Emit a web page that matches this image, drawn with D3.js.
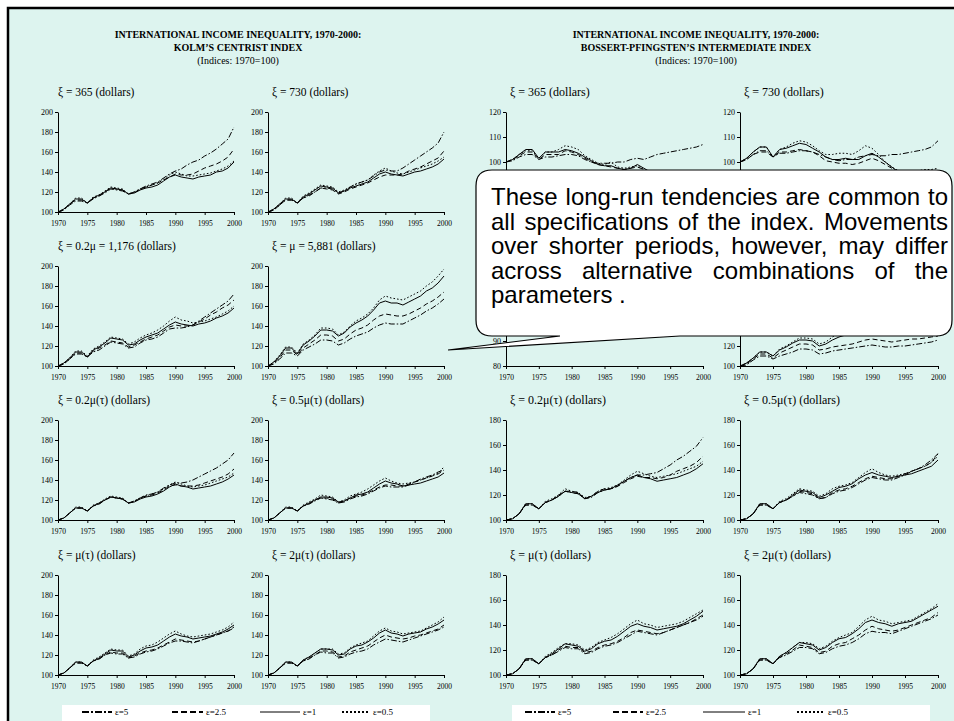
<!DOCTYPE html>
<html><head><meta charset="utf-8">
<script src="https://cdn.jsdelivr.net/npm/d3@7"></script>
<style>body{margin:0;background:#fff}svg{display:block}</style>
</head><body>
<svg id="chart" width="954" height="721"></svg>
<script>
// ---------- data ----------
const years = [1970,1971,1972,1973,1974,1975,1976,1977,1978,1979,1980,1981,1982,1983,1984,1985,1986,1987,1988,1989,1990,1991,1992,1993,1994,1995,1996,1997,1998,1999,2000];
const xTickYears = [1970,1975,1980,1985,1990,1995,2000];
const legendLabels = ["\u03b5=5","\u03b5=2.5","\u03b5=1","\u03b5=0.5"];
const ticksKolm = [100,120,140,160,180,200];
const ticksBPlow = [80,90,100,110,120];
const ticksBPhigh = [100,120,140,160,180];

const headers = [
  ["INTERNATIONAL INCOME INEQUALITY, 1970-2000:", "KOLM\u2019S CENTRIST INDEX", "(Indices: 1970=100)"],
  ["INTERNATIONAL INCOME INEQUALITY, 1970-2000:", "BOSSERT-PFINGSTEN\u2019S INTERMEDIATE INDEX", "(Indices: 1970=100)"]
];
const panelTitles = [
  "\u03be = 365 (dollars)", "\u03be = 730 (dollars)",
  "\u03be = 0.2\u03bc = 1,176 (dollars)", "\u03be = \u03bc = 5,881 (dollars)",
  "\u03be = 0.2\u03bc(\u03c4) (dollars)", "\u03be = 0.5\u03bc(\u03c4) (dollars)",
  "\u03be = \u03bc(\u03c4) (dollars)", "\u03be = 2\u03bc(\u03c4) (dollars)"
];
const calloutLines = [
  "These long-run tendencies are common to",
  "all specifications of the index. Movements",
  "over shorter periods, however, may differ",
  "across alternative combinations of the",
  "parameters ."
];

// each panel: [ε=5, ε=2.5, ε=1, ε=0.5]
const kolm365 = [
  [100,102,107,111,111,109,113,116,119,123,122,121,118,120,123,126,128,130,134,138,141,143,147,150,152,156,159,163,168,173,185],
  [100,102,108,112,112,109,114,116,120,124,123,122,118,119,123,125,127,129,132,135,138,137,137,138,141,144,146,148,151,155,163],
  [100,103,108,113,113,109,114,117,120,124,123,122,118,119,122,124,125,127,131,135,137,135,134,133,135,136,137,140,141,144,150],
  [100,103,108,114,114,109,115,117,121,125,124,123,118,120,123,125,127,129,133,137,140,138,136,136,137,138,139,141,143,146,151]
];
const kolm730 = [
  [100,102,107,112,112,109,114,117,120,124,124,123,119,121,125,128,130,132,136,140,142,141,141,144,148,152,156,160,164,169,180],
  [100,102,107,112,112,109,114,116,120,124,123,122,118,120,123,125,127,129,132,135,137,137,137,138,141,143,145,148,151,154,161],
  [100,103,108,113,113,109,115,118,122,126,125,124,119,121,124,126,128,130,134,138,140,138,137,136,138,140,141,143,145,148,153],
  [100,103,108,114,114,109,116,119,123,127,126,125,120,122,125,128,130,132,137,141,144,141,139,138,140,142,144,146,148,151,155]
];
const kolm1176 = [
  [100,102,107,112,112,109,114,116,120,124,123,122,118,119,123,126,127,129,133,137,138,138,139,141,145,149,153,157,161,165,172],
  [100,102,107,113,113,109,115,118,121,125,124,123,119,121,124,127,129,131,135,139,141,140,140,141,144,147,151,154,158,161,166],
  [100,103,108,114,114,109,116,119,123,128,127,126,121,122,126,129,131,133,137,141,144,142,141,140,142,143,145,148,150,153,158],
  [100,103,108,115,115,110,117,120,124,129,128,127,122,124,128,131,133,136,140,145,149,146,145,143,144,145,147,149,152,155,160]
];
const kolm5881 = [
  [100,102,107,113,113,110,116,119,122,126,126,125,121,123,127,130,132,134,138,141,143,142,142,142,145,148,151,155,158,162,167],
  [100,103,108,116,116,111,118,122,126,131,131,130,125,127,132,136,138,141,146,150,152,151,150,150,152,155,158,162,165,169,174],
  [100,104,110,118,118,112,121,125,130,136,136,135,130,133,139,143,146,150,156,163,165,163,163,161,164,167,170,175,178,183,190],
  [100,104,111,119,119,113,122,126,131,138,138,137,131,134,140,145,148,152,158,166,170,168,167,166,169,172,175,180,184,190,197]
];
const kolm02mt = [
  [100,102,107,112,112,109,114,116,120,123,122,121,117,119,122,125,126,128,132,135,137,137,138,140,143,146,149,152,156,160,167],
  [100,102,107,112,112,109,114,116,120,123,122,121,117,118,122,124,125,127,130,134,135,134,134,134,135,137,139,141,143,146,151],
  [100,102,107,112,112,109,114,117,120,123,122,121,117,118,121,123,124,126,129,133,136,134,133,131,132,133,134,136,138,141,145],
  [100,102,107,113,113,109,115,117,121,124,123,122,117,119,122,124,126,128,131,135,138,136,134,133,134,135,137,139,141,143,147]
];
const kolm05mt = [
  [100,102,107,112,112,109,114,116,119,122,121,120,117,118,121,123,124,126,129,132,134,133,133,133,135,138,141,143,145,148,150],
  [100,102,107,112,112,109,114,116,120,122,122,121,117,119,122,124,125,127,130,133,135,135,134,134,136,138,140,142,144,146,150],
  [100,102,107,112,112,109,114,117,120,123,123,122,118,119,122,125,126,128,132,136,139,137,136,134,135,136,137,139,141,143,147],
  [100,102,107,113,113,109,115,118,121,125,124,123,118,120,124,126,128,131,135,139,142,139,137,136,137,138,140,142,144,147,153]
];
const kolm1mt = [
  [100,102,107,112,112,109,114,116,120,122,121,121,117,118,121,123,124,126,129,132,134,134,133,132,134,136,138,140,142,144,147],
  [100,102,107,112,112,109,114,116,120,123,122,122,117,119,122,124,125,127,130,133,136,135,134,133,134,136,138,140,142,144,148],
  [100,102,107,113,113,109,114,117,121,125,124,124,118,120,124,127,128,130,134,138,141,139,138,136,137,138,139,141,143,146,150],
  [100,102,107,113,113,109,115,118,122,126,125,125,119,121,126,129,130,133,137,141,144,141,139,138,139,140,141,143,145,148,153]
];
const kolm2mt = [
  [100,102,107,112,112,109,114,116,120,123,122,122,117,118,121,123,124,126,130,133,136,135,134,133,135,137,139,141,143,145,148],
  [100,102,107,112,112,109,114,117,120,124,124,123,118,119,123,125,127,129,133,137,140,138,137,136,137,139,140,142,144,146,150],
  [100,102,107,113,113,109,115,118,122,126,126,125,120,121,126,129,130,133,137,142,145,142,141,139,141,142,143,146,148,151,155],
  [100,102,107,113,113,109,115,118,122,126,126,126,121,122,127,130,132,134,139,144,147,144,143,141,142,143,144,147,150,153,158]
];

const bp365 = [
  [100,100.5,102,103,103,101,102,102,102.5,103,103,102.5,101,100,99.5,99.5,99.5,100,100,101,101.5,101,102,103,103.5,104,104.5,105,105.5,106,107],
  [100,101,102.5,104,104,101,103,103,103,104.5,104,103,101.5,100,99,98.5,98,97.5,97,97.5,98,97,95.5,94.5,94,93.5,93,92.5,92,91.5,91],
  [100,101,103,105,105,101.5,104,104,104,105,104.5,103.5,102,100.5,99,98.5,98.5,97.5,97,97.5,99,97.5,96,94.5,93.5,93,92.5,92,91.5,91,90.5],
  [100,101,103,104.5,104.5,101.5,104,104,105,106.5,106,105,102.5,101,99.5,99,100,98,97.5,98,98.5,97,95.5,94,93.5,93,92.5,92,91.5,91,91]
];
const bp730 = [
  [100,101,103,104.5,104.5,102,103.5,103.5,104,104.5,104.5,104,103,102,101,100.5,101,101,102,102.5,103,102.5,102.5,103,103,103.5,104,104.5,105,106,108.5],
  [100,101,103,104,104,102,104,104,104.5,105,104.5,104,102.5,100.5,100,99.5,99.5,99,99.5,100.5,101.5,100.5,99,97.5,96,95,95,95,95,95.5,96],
  [100,101.5,104,106,106,102,105,105.5,106.5,107.5,107,105.5,104,102,101,101,101.5,101,101,102.5,103.5,102,100,98,96,95.5,95.5,95,95,95.5,96],
  [100,101.5,104,106,106,102,105,106,107.5,108.5,108,106.5,104.5,103,103,103.5,103.5,103,104.5,106.5,105.5,103,100,98,96.5,96,96,96.5,97,97,97.5]
];
const bp1176 = [
  [100,101,103,104.5,104.5,102,104,104.5,105,106,105.5,105,102.5,102.5,103,103.5,103.5,104,105,106,106.5,106,106.5,107,108,109,110,111,112,113,115],
  [100,101,103.5,105.5,105.5,102.5,105,105.5,106,107.5,107,106,103.5,103.5,104,104.5,104.5,104.5,105.5,107,107.5,106.5,106,105.5,106,106.5,107,107.5,108,109,110.5],
  [100,101.5,104,106.5,106.5,103,106,107,108,109.5,109,108,105,105,106,106.5,107,107,108,110,111,109.5,108.5,107.5,107.5,107.5,107.5,108,108,108.5,109],
  [100,101.5,104,107,107,103,106.5,107.5,109,110.5,110,109,106,106,107.5,108,108.5,109,110,112,113,111,110,109,109,109,109.5,109.5,110,110.5,111]
];
const bp5881 = [
  [100,101,106,110,110,107,110,112,114,117,117,116,112,113,115,116,117,118,119,120,121,120,119,119,120,120,121,122,123,124,126],
  [100,102,107,112,112,108,113,116,119,122,122,121,116,117,119,120,121,122,124,126,127,126,125,124,125,126,127,127,128,129,130],
  [100,103,108,114,114,110,116,119,123,126,126,125,120,122,126,129,131,134,138,143,146,144,143,142,144,146,148,151,154,157,162],
  [100,103,108,114,114,110,117,120,124,128,128,127,122,124,129,133,136,139,144,150,154,152,151,150,152,154,156,160,163,167,173]
];
const bp02mt = [
  [100,101,105,112,112,109,114,116,119,123,122,121,117,118,122,124,125,127,131,134,136,136,137,138,141,144,148,151,155,159,166],
  [100,101,105,112,112,109,114,116,120,123,123,122,117,119,123,125,125,127,130,133,135,134,134,133,134,136,139,141,143,146,151],
  [100,101,105,113,113,109,114,116,119,123,122,121,117,119,122,124,125,128,131,134,136,134,133,131,132,133,134,136,138,141,145],
  [100,101,105,113,113,109,115,117,120,125,123,122,118,119,123,125,126,128,132,136,139,137,135,134,135,136,137,139,141,143,147]
];
const bp05mt = [
  [100,101,105,112,112,109,114,116,119,122,121,120,117,118,121,123,124,126,129,132,134,133,132,132,134,136,139,141,144,148,153],
  [100,101,105,112,112,109,114,116,119,123,122,121,117,118,122,124,125,127,130,133,135,134,133,133,135,137,139,141,143,146,153],
  [100,101,105,113,113,109,114,116,120,124,123,122,118,120,123,126,127,129,133,136,138,136,135,134,135,136,137,139,141,143,148],
  [100,101,105,113,113,109,115,117,121,125,124,123,119,121,125,127,128,130,134,138,141,138,136,135,136,137,139,141,143,146,151]
];
const bp1mt = [
  [100,101,105,112,112,109,114,116,119,122,121,121,117,118,121,123,124,126,129,132,135,134,133,132,134,136,138,140,142,144,147],
  [100,101,105,112,112,109,114,116,120,123,122,122,118,119,122,124,125,127,130,134,136,135,134,133,134,136,138,140,142,145,148],
  [100,101,105,113,113,109,114,117,121,125,124,123,119,121,125,127,128,131,135,139,141,139,138,136,137,138,139,141,144,147,151],
  [100,101,105,113,113,109,115,118,122,125,125,124,120,122,126,128,130,133,137,141,144,141,140,138,139,140,141,143,146,149,152]
];
const bp2mt = [
  [100,101,105,112,112,109,114,116,119,122,122,121,117,118,121,123,124,126,129,133,135,134,134,133,135,137,139,141,143,145,148],
  [100,101,105,112,112,109,114,117,120,124,123,122,118,119,123,125,126,129,132,136,139,137,136,135,136,138,140,142,144,146,150],
  [100,101,105,113,113,109,115,118,122,126,125,124,120,122,126,129,130,133,137,142,144,142,141,139,141,142,143,146,149,152,155],
  [100,101,105,113,113,109,115,118,122,126,126,125,121,123,127,130,132,134,139,144,147,144,143,141,142,143,144,147,150,153,157]
];

// ---------- layout ----------
const W = 954, H = 721;
const BG = "#ddf4ef";
const SERIF = "'Liberation Serif','Times New Roman',serif";
const SANS = "'Liberation Sans',Arial,sans-serif";
const rowTop = [112, 266, 420, 575];
const plotH = 100;
const colsLeft = [[58, 234], [268, 444]];
const colsRight = [[506, 703], [740, 938]];
const dashStyles = ["6,2,1.5,2", "5,3", null, "1.6,2"];

const panels = [
  {block: 0, row: 0, col: 0, title: panelTitles[0], data: kolm365, dom: [100,200], ticks: ticksKolm},
  {block: 0, row: 0, col: 1, title: panelTitles[1], data: kolm730, dom: [100,200], ticks: ticksKolm},
  {block: 0, row: 1, col: 0, title: panelTitles[2], data: kolm1176, dom: [100,200], ticks: ticksKolm},
  {block: 0, row: 1, col: 1, title: panelTitles[3], data: kolm5881, dom: [100,200], ticks: ticksKolm},
  {block: 0, row: 2, col: 0, title: panelTitles[4], data: kolm02mt, dom: [100,200], ticks: ticksKolm},
  {block: 0, row: 2, col: 1, title: panelTitles[5], data: kolm05mt, dom: [100,200], ticks: ticksKolm},
  {block: 0, row: 3, col: 0, title: panelTitles[6], data: kolm1mt, dom: [100,200], ticks: ticksKolm},
  {block: 0, row: 3, col: 1, title: panelTitles[7], data: kolm2mt, dom: [100,200], ticks: ticksKolm},
  {block: 1, row: 0, col: 0, title: panelTitles[0], data: bp365, dom: [80,120], ticks: ticksBPlow},
  {block: 1, row: 0, col: 1, title: panelTitles[1], data: bp730, dom: [80,120], ticks: ticksBPlow},
  {block: 1, row: 1, col: 0, title: panelTitles[2], data: bp1176, dom: [80,120], ticks: ticksBPlow},
  {block: 1, row: 1, col: 1, title: panelTitles[3], data: bp5881, dom: [100,200], ticks: ticksKolm},
  {block: 1, row: 2, col: 0, title: panelTitles[4], data: bp02mt, dom: [100,180], ticks: ticksBPhigh},
  {block: 1, row: 2, col: 1, title: panelTitles[5], data: bp05mt, dom: [100,180], ticks: ticksBPhigh},
  {block: 1, row: 3, col: 0, title: panelTitles[6], data: bp1mt, dom: [100,180], ticks: ticksBPhigh},
  {block: 1, row: 3, col: 1, title: panelTitles[7], data: bp2mt, dom: [100,180], ticks: ticksBPhigh}
];

// callout geometry
const bx0 = 476, by0 = 170, bx1 = 952, by1 = 336, r = 16;
const tip = [448, 350];

const svg = d3.select("#chart");

// slide background and frame
svg.append("rect").attr("width", W).attr("height", H).attr("fill", "#fff");
svg.append("rect").attr("x", 8).attr("y", 8).attr("width", W + 20).attr("height", H + 20)
  .attr("fill", BG).attr("stroke", "#000").attr("stroke-width", 2.5);

// block headers
const headerX = [238, 696];
headers.forEach((lines, b) => {
  const g = svg.append("g").attr("font-family", SERIF).attr("text-anchor", "middle").attr("fill", "#000");
  lines.forEach((t, i) => {
    g.append("text").attr("x", headerX[b]).attr("y", 38 + i * 13)
      .attr("font-size", 10).attr("font-weight", i < 2 ? "bold" : "normal").text(t);
  });
});

// small multiples
const chartLayer = svg.append("g");
panels.forEach(p => {
  const cols = p.block === 0 ? colsLeft : colsRight;
  const [x0, x1] = cols[p.col];
  const top = rowTop[p.row], bottom = top + plotH;
  const x = d3.scaleLinear().domain([1970, 2000]).range([x0, x1]);
  const y = d3.scaleLinear().domain(p.dom).range([bottom, top]);
  const g = chartLayer.append("g");

  g.append("text").attr("x", x0 + (p.block === 0 && p.col === 0 ? 0 : 4)).attr("y", top - 16)
    .attr("font-family", SERIF).attr("font-size", p.block === 0 ? 11.5 : 12).text(p.title);

  const ya = g.append("g").attr("transform", `translate(${x0},0)`)
    .call(d3.axisLeft(y).tickValues(p.ticks).tickSize(3).tickSizeOuter(0).tickPadding(2));
  const xa = g.append("g").attr("transform", `translate(0,${bottom})`)
    .call(d3.axisBottom(x).tickValues(xTickYears).tickFormat(d3.format("d")).tickSize(3).tickSizeOuter(0).tickPadding(6));
  [ya, xa].forEach(a => {
    a.select(".domain").attr("stroke", "#000").attr("stroke-width", 1);
    a.selectAll(".tick line").attr("stroke", "#000");
    a.selectAll("text").attr("font-family", SERIF).attr("fill", "#000");
  });
  ya.selectAll("text").attr("font-size", 8);
  xa.selectAll("text").attr("font-size", 7.5);

  const line = d3.line().x((d, i) => x(years[i])).y(d => y(d));
  p.data.forEach((vals, s) => {
    g.append("path").attr("d", line(vals)).attr("fill", "none").attr("stroke", "#000")
      .attr("stroke-width", 1).attr("stroke-dasharray", dashStyles[s]);
  });
});

// labels that sit entirely under the callout balloon are never seen; leave them out
chartLayer.selectAll("text").each(function () {
  const bb = this.getBoundingClientRect();
  if (bb.left >= bx0 && bb.right <= bx1 && bb.top >= by0 && bb.bottom <= by1) d3.select(this).remove();
});

// legends
const legendBoxes = [[62, 430], [512, 930]];
const legendItems = [
  [[82, 112], [172, 203], [260, 300], [342, 370]],
  [[525, 555], [613, 643], [703, 745], [797, 825]]
];
legendBoxes.forEach((bx, b) => {
  svg.append("rect").attr("x", bx[0]).attr("y", 705).attr("width", bx[1] - bx[0]).attr("height", 20).attr("fill", "#fff");
  legendLabels.forEach((lab, s) => {
    const [a, c] = legendItems[b][s];
    svg.append("line").attr("x1", a).attr("x2", c).attr("y1", 712).attr("y2", 712)
      .attr("stroke", "#000").attr("stroke-width", s === 2 ? 1 : 2)
      .attr("stroke-dasharray", s === 0 ? "7,2,2,2" : s === 1 ? "6,3" : s === 3 ? "2,2" : null);
    svg.append("text").attr("x", c + 3).attr("y", 715).attr("font-family", SERIF).attr("font-size", 9).text(lab);
  });
});

// callout balloon
const calloutPath = `M${bx0 + r},${by0} H${bx1 - r} Q${bx1},${by0} ${bx1},${by0 + r} V${by1 - r} Q${bx1},${by1} ${bx1 - r},${by1}` +
  ` H680 L${tip[0]},${tip[1]} L560,${by1} H${bx0 + r} Q${bx0},${by1} ${bx0},${by1 - r} V${by0 + r} Q${bx0},${by0} ${bx0 + r},${by0} Z`;
svg.append("path").attr("d", calloutPath).attr("fill", "#fff").attr("stroke", "#000").attr("stroke-width", 1.2);

const cg = svg.append("g").attr("font-family", SANS).attr("font-size", 24).attr("fill", "#000");
const textLeft = 491, textRight = 948, base = 205, lead = 24.5;
function measure(word) {
  const t = cg.append("text").text(word);
  const w = t.node().getComputedTextLength();
  t.remove();
  return w;
}
const spaceW = measure("a b") - measure("ab");
calloutLines.forEach((ln, i) => {
  const words = ln.split(" ");
  const ws = words.map(measure);
  const last = i === calloutLines.length - 1;
  const gap = last ? spaceW : (textRight - textLeft - d3.sum(ws)) / (words.length - 1);
  let cx = textLeft;
  words.forEach((w, j) => {
    cg.append("text").attr("x", cx).attr("y", base + i * lead).text(w);
    cx += ws[j] + gap;
  });
});
</script>
</body></html>
